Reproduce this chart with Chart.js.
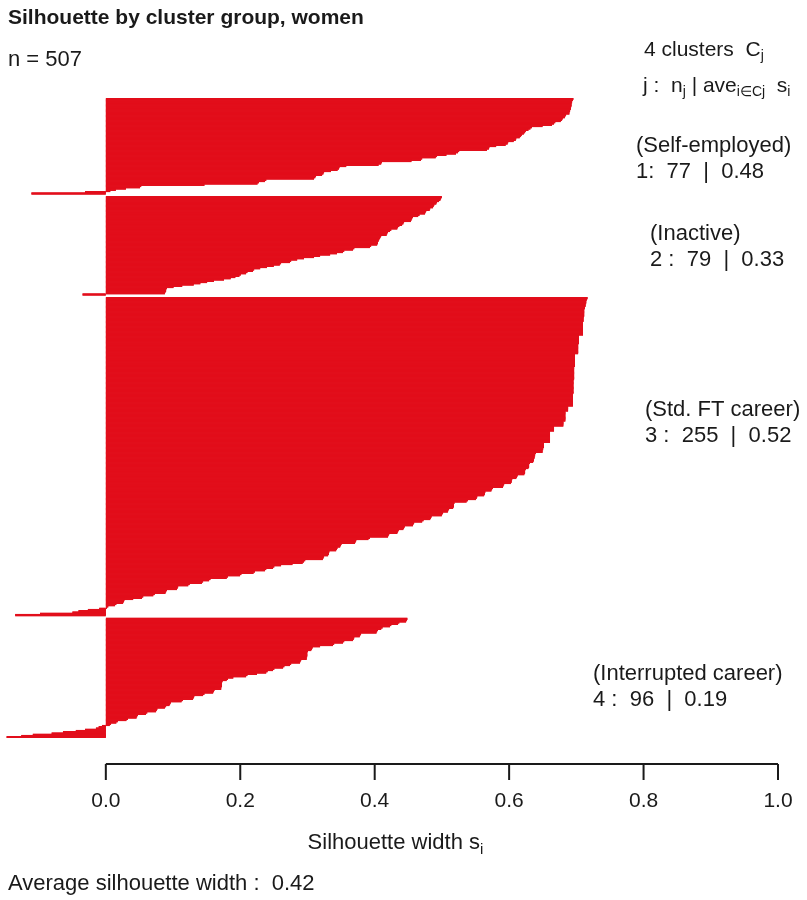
<!DOCTYPE html>
<html>
<head>
<meta charset="utf-8">
<script src="https://cdn.jsdelivr.net/npm/chart.js@4.4.1/dist/chart.umd.min.js"></script>
<style>
  body { margin: 0; background: #fff; }
  #wrap { width: 807px; height: 900px; }
</style>
</head>
<body>
<div id="wrap"><canvas id="silPlot" width="807" height="900"></canvas></div>
<script>
// silhouette widths s_i, sorted top to bottom inside each cluster
const cluster1 = [
  0.695, 0.694, 0.693, 0.693, 0.692, 0.692, 0.692, 0.691, 0.691, 0.690,
  0.690, 0.689, 0.689, 0.684, 0.683, 0.682, 0.679, 0.678, 0.676, 0.668,
  0.666, 0.663, 0.649, 0.633, 0.631, 0.628, 0.624, 0.623, 0.621, 0.618,
  0.617, 0.615, 0.610, 0.609, 0.606, 0.598, 0.597, 0.594, 0.580, 0.570,
  0.569, 0.566, 0.525, 0.523, 0.520, 0.506, 0.492, 0.490, 0.470, 0.468,
  0.454, 0.410, 0.409, 0.405, 0.357, 0.347, 0.346, 0.344, 0.334, 0.324,
  0.323, 0.321, 0.312, 0.311, 0.309, 0.238, 0.236, 0.227, 0.225, 0.146,
  0.052, 0.050, 0.029, 0.014, 0.006, -0.030, -0.110
];
const cluster2 = [
  0.499, 0.498, 0.497, 0.495, 0.492, 0.491, 0.488, 0.487, 0.486, 0.482,
  0.481, 0.476, 0.475, 0.474, 0.466, 0.464, 0.456, 0.455, 0.454, 0.453,
  0.443, 0.442, 0.440, 0.436, 0.434, 0.433, 0.424, 0.422, 0.419, 0.418,
  0.417, 0.409, 0.408, 0.407, 0.406, 0.405, 0.404, 0.404, 0.403, 0.394,
  0.392, 0.369, 0.367, 0.354, 0.352, 0.343, 0.333, 0.318, 0.309, 0.294,
  0.284, 0.275, 0.273, 0.260, 0.258, 0.249, 0.239, 0.229, 0.220, 0.218,
  0.210, 0.208, 0.200, 0.198, 0.192, 0.185, 0.175, 0.160, 0.150, 0.140,
  0.130, 0.113, 0.100, 0.090, 0.089, 0.089, 0.088, 0.087, -0.034
];
const cluster3 = [
  0.716, 0.715, 0.714, 0.714, 0.714, 0.713, 0.713, 0.712, 0.712, 0.711,
  0.711, 0.711, 0.711, 0.711, 0.711, 0.710, 0.710, 0.710, 0.710, 0.709,
  0.709, 0.709, 0.709, 0.709, 0.709, 0.709, 0.709, 0.709, 0.709, 0.709,
  0.703, 0.703, 0.703, 0.703, 0.703, 0.703, 0.703, 0.702, 0.702, 0.702,
  0.702, 0.702, 0.702, 0.702, 0.702, 0.697, 0.697, 0.697, 0.697, 0.697,
  0.697, 0.697, 0.697, 0.697, 0.697, 0.696, 0.696, 0.696, 0.696, 0.696,
  0.696, 0.696, 0.696, 0.696, 0.696, 0.696, 0.695, 0.695, 0.695, 0.695,
  0.695, 0.695, 0.695, 0.695, 0.695, 0.695, 0.695, 0.694, 0.694, 0.694,
  0.694, 0.694, 0.694, 0.694, 0.694, 0.694, 0.694, 0.687, 0.687, 0.687,
  0.687, 0.683, 0.683, 0.683, 0.683, 0.683, 0.683, 0.683, 0.683, 0.680,
  0.680, 0.680, 0.680, 0.666, 0.666, 0.666, 0.666, 0.660, 0.660, 0.660,
  0.660, 0.660, 0.660, 0.660, 0.660, 0.660, 0.651, 0.651, 0.651, 0.651,
  0.650, 0.650, 0.649, 0.649, 0.639, 0.638, 0.638, 0.637, 0.637, 0.636,
  0.636, 0.635, 0.630, 0.629, 0.629, 0.629, 0.628, 0.624, 0.623, 0.623,
  0.623, 0.622, 0.612, 0.611, 0.610, 0.604, 0.603, 0.603, 0.602, 0.592,
  0.591, 0.590, 0.575, 0.574, 0.573, 0.564, 0.563, 0.563, 0.562, 0.552,
  0.551, 0.550, 0.538, 0.536, 0.518, 0.517, 0.517, 0.517, 0.516, 0.510,
  0.509, 0.508, 0.501, 0.500, 0.499, 0.484, 0.483, 0.482, 0.472, 0.470,
  0.458, 0.457, 0.456, 0.444, 0.443, 0.442, 0.435, 0.434, 0.433, 0.421,
  0.420, 0.419, 0.392, 0.390, 0.372, 0.371, 0.370, 0.350, 0.349, 0.348,
  0.344, 0.343, 0.342, 0.332, 0.331, 0.331, 0.330, 0.324, 0.323, 0.322,
  0.296, 0.294, 0.292, 0.277, 0.260, 0.250, 0.248, 0.238, 0.236, 0.221,
  0.219, 0.201, 0.199, 0.181, 0.179, 0.155, 0.153, 0.144, 0.142, 0.124,
  0.122, 0.107, 0.106, 0.105, 0.090, 0.089, 0.088, 0.072, 0.070, 0.055,
  0.053, 0.040, 0.027, 0.026, 0.025, 0.015, 0.013, 0.003, 0.001, -0.009,
  -0.026, -0.040, -0.049, -0.097, -0.134
];
const cluster4 = [
  0.448, 0.447, 0.446, 0.436, 0.434, 0.424, 0.422, 0.411, 0.409, 0.404,
  0.403, 0.402, 0.379, 0.378, 0.377, 0.369, 0.368, 0.367, 0.354, 0.352,
  0.339, 0.337, 0.318, 0.307, 0.306, 0.305, 0.300, 0.299, 0.299, 0.299,
  0.299, 0.298, 0.298, 0.290, 0.289, 0.288, 0.275, 0.273, 0.265, 0.263,
  0.250, 0.248, 0.240, 0.238, 0.224, 0.210, 0.208, 0.189, 0.181, 0.179,
  0.173, 0.172, 0.172, 0.172, 0.172, 0.171, 0.171, 0.161, 0.160, 0.159,
  0.146, 0.144, 0.131, 0.130, 0.129, 0.114, 0.112, 0.096, 0.095, 0.094,
  0.089, 0.087, 0.076, 0.075, 0.074, 0.061, 0.059, 0.047, 0.046, 0.045,
  0.032, 0.030, 0.017, 0.015, 0.007, 0.005, -0.005, -0.010, -0.014, -0.030,
  -0.044, -0.063, -0.080, -0.108, -0.125, -0.147
];

const clusterNames = ["(Self-employed)", "(Inactive)", "(Std. FT career)", "(Interrupted career)"];
const clusterIds = ["1:", "2 :", "3 :", "4 :"];
const clusterSizes = [77, 79, 255, 96];
const clusterAvg = ["0.48", "0.33", "0.52", "0.19"];
const xTicks = [0, 0.2, 0.4, 0.6, 0.8, 1.0];
const avgWidth = "0.42";
const totalN = 507;

const RED = "#e20e1b";
const INK = "#1a1a1a";
const FONT = '"Liberation Sans", Arial, Helvetica, sans-serif';

// one bar per observation, two empty slots between clusters
let values = [];
[cluster1, cluster2, cluster3, cluster4].forEach((c, k) => {
  if (k > 0) values.push(null, null);
  values = values.concat(c);
});
const labels = values.map((v, i) => "obs" + i);

// text with subscripts: parts = [[text, isSub], ...]
function drawParts(ctx, parts, x, y, size) {
  let cx = x;
  parts.forEach(([txt, sub]) => {
    const fs = sub ? Math.round(size * 0.68) : size;
    ctx.font = fs + "px " + FONT;
    ctx.fillText(txt, cx, sub ? y + size * 0.3 : y);
    cx += ctx.measureText(txt).width;
  });
  return cx - x;
}

function partsWidth(ctx, parts, size) {
  let w = 0;
  parts.forEach(([txt, sub]) => {
    ctx.font = (sub ? Math.round(size * 0.68) : size) + "px " + FONT;
    w += ctx.measureText(txt).width;
  });
  return w;
}

const textPlugin = {
  id: "silText",
  afterDraw(chart) {
    const ctx = chart.ctx;
    const xs = chart.scales.x;
    const area = chart.chartArea;
    ctx.save();
    ctx.fillStyle = INK;
    ctx.strokeStyle = INK;
    ctx.textBaseline = "middle";
    ctx.textAlign = "left";

    // title and n
    ctx.font = "bold 21px " + FONT;
    ctx.fillText("Silhouette by cluster group, women", 8, 18);
    ctx.font = "22px " + FONT;
    ctx.fillText("n = " + totalN, 8, 60);

    // header at right
    drawParts(ctx, [[String(clusterSizes.length) + " clusters  C", false], ["j", true]], 644, 50, 21);
    drawParts(ctx, [["j :  n", false], ["j", true], [" | ave", false], ["i\u2208Cj", true], ["  s", false], ["i", true]], 643, 86, 21);

    // cluster labels
    const lx = [636, 650, 645, 593];
    const ly = [146, 234, 410, 674];
    ctx.font = "22px " + FONT;
    clusterNames.forEach((nm, k) => {
      ctx.fillText(nm, lx[k], ly[k]);
      ctx.fillText(clusterIds[k] + "  " + clusterSizes[k] + "  |  " + clusterAvg[k], lx[k], ly[k] + 26);
    });

    // x axis: line and ticks only from 0 to 1, as in the original
    const axY = 764;
    ctx.lineWidth = 2;
    ctx.beginPath();
    ctx.moveTo(xs.getPixelForValue(xTicks[0]), axY);
    ctx.lineTo(xs.getPixelForValue(xTicks[xTicks.length - 1]), axY);
    xTicks.forEach(t => {
      const px = xs.getPixelForValue(t);
      ctx.moveTo(px, axY);
      ctx.lineTo(px, axY + 16);
    });
    ctx.stroke();

    ctx.font = "21px " + FONT;
    ctx.textAlign = "center";
    xTicks.forEach(t => {
      ctx.fillText(t.toFixed(1), xs.getPixelForValue(t), 801);
    });
    ctx.textAlign = "left";

    // axis title
    const titleParts = [["Silhouette width s", false], ["i", true]];
    const tw = partsWidth(ctx, titleParts, 22);
    drawParts(ctx, titleParts, (area.left + area.right) / 2 - tw / 2 + 4, 843, 22);

    ctx.font = "22px " + FONT;
    ctx.fillText("Average silhouette width :  " + avgWidth, 8, 884);
    ctx.restore();
  }
};

const ctx = document.getElementById("silPlot").getContext("2d");
const silChart = new Chart(ctx, {
  type: "bar",
  data: {
    labels: labels,
    datasets: [{
      data: values,
      backgroundColor: RED,
      borderColor: RED,
      borderWidth: 0.05,
      inflateAmount: 0.65,
      barPercentage: 1,
      categoryPercentage: 1
    }]
  },
  options: {
    indexAxis: "y",
    responsive: false,
    animation: false,
    layout: { padding: { left: 5, right: 29, top: 98, bottom: 162 } },
    plugins: {
      legend: { display: false },
      tooltip: { enabled: false }
    },
    scales: {
      y: { display: false },
      x: { display: false, min: -0.15, max: 1.0 }
    }
  },
  plugins: [textPlugin]
});
</script>
</body>
</html>
